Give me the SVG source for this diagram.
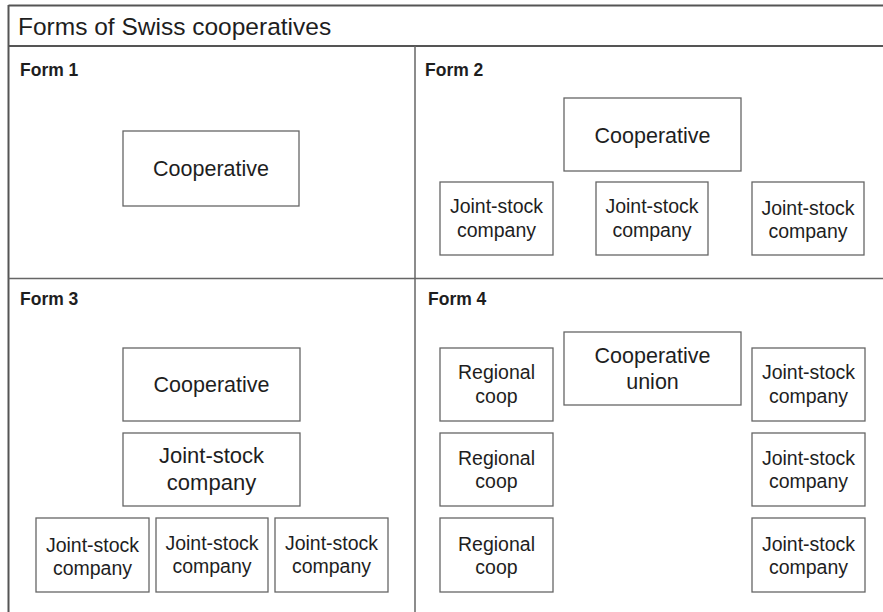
<svg xmlns="http://www.w3.org/2000/svg" width="883" height="612" viewBox="0 0 883 612">
<style>
.frame{stroke:#555;stroke-width:2;fill:none}
.div{stroke:#666;stroke-width:1.5;fill:none}
.box{fill:#fff;stroke:#666;stroke-width:1.3}
text{font-family:"Liberation Sans",Arial,sans-serif;fill:#1e1e1e}
.t{font-size:24.5px}
.h{font-size:17.5px;font-weight:bold}
.big{font-size:21.5px;text-anchor:middle}
.mid{font-size:22px;text-anchor:middle}
.sm{font-size:19.5px;text-anchor:middle}
</style>
<rect width="883" height="612" fill="#fff"/>
<g id="frame">
<line class="frame" x1="8.5" y1="5.5" x2="883" y2="5.5"/>
<line class="frame" x1="8.5" y1="46" x2="883" y2="46"/>
<line class="frame" x1="8.5" y1="5" x2="8.5" y2="612"/>
<line class="div" x1="415" y1="46" x2="415" y2="612"/>
<line class="div" x1="8.5" y1="278.5" x2="883" y2="278.5"/>
<text class="t" x="18" y="35">Forms of Swiss cooperatives</text>
<text class="h" x="20" y="76">Form 1</text>
<text class="h" x="425" y="76">Form 2</text>
<text class="h" x="20" y="305">Form 3</text>
<text class="h" x="428" y="305">Form 4</text>
</g>
<g id="connectors"></g>
<g id="f1-coop"><rect class="box" x="123" y="131" width="176" height="75"/><text class="big" x="211" y="176">Cooperative</text></g>
<g id="f2-coop"><rect class="box" x="564" y="98" width="177" height="73"/><text class="big" x="652.5" y="143">Cooperative</text></g>
<g id="f2-jsc1"><rect class="box" x="440" y="182" width="113" height="73"/><text class="sm" x="496.5" y="213">Joint-stock</text><text class="sm" x="496.5" y="237">company</text></g>
<g id="f2-jsc2"><rect class="box" x="596" y="182" width="112" height="73"/><text class="sm" x="652" y="213">Joint-stock</text><text class="sm" x="652" y="237">company</text></g>
<g id="f2-jsc3"><rect class="box" x="752" y="182" width="112" height="73"/><text class="sm" x="808" y="215">Joint-stock</text><text class="sm" x="808" y="238">company</text></g>
<g id="f3-coop"><rect class="box" x="123" y="348" width="177" height="73"/><text class="big" x="211.5" y="392">Cooperative</text></g>
<g id="f3-jsc"><rect class="box" x="123" y="433" width="177" height="73"/><text class="mid" x="211.5" y="463">Joint-stock</text><text class="mid" x="211.5" y="490">company</text></g>
<g id="f3-jsc1"><rect class="box" x="36" y="518" width="113" height="74"/><text class="sm" x="92.5" y="552">Joint-stock</text><text class="sm" x="92.5" y="575">company</text></g>
<g id="f3-jsc2"><rect class="box" x="156" y="518" width="112" height="74"/><text class="sm" x="212" y="550">Joint-stock</text><text class="sm" x="212" y="573">company</text></g>
<g id="f3-jsc3"><rect class="box" x="275" y="518" width="113" height="74"/><text class="sm" x="331.5" y="550">Joint-stock</text><text class="sm" x="331.5" y="573">company</text></g>
<g id="f4-union"><rect class="box" x="564" y="332" width="177" height="73"/><text class="big" x="652.5" y="363">Cooperative</text><text class="big" x="652.5" y="389">union</text></g>
<g id="f4-reg1"><rect class="box" x="440" y="348" width="113" height="73"/><text class="sm" x="496.5" y="379">Regional</text><text class="sm" x="496.5" y="403">coop</text></g>
<g id="f4-reg2"><rect class="box" x="440" y="433" width="113" height="73"/><text class="sm" x="496.5" y="465">Regional</text><text class="sm" x="496.5" y="488">coop</text></g>
<g id="f4-reg3"><rect class="box" x="440" y="518" width="113" height="74"/><text class="sm" x="496.5" y="551">Regional</text><text class="sm" x="496.5" y="574">coop</text></g>
<g id="f4-jsc1"><rect class="box" x="752" y="348" width="113" height="73"/><text class="sm" x="808.5" y="379">Joint-stock</text><text class="sm" x="808.5" y="403">company</text></g>
<g id="f4-jsc2"><rect class="box" x="752" y="433" width="113" height="73"/><text class="sm" x="808.5" y="465">Joint-stock</text><text class="sm" x="808.5" y="488">company</text></g>
<g id="f4-jsc3"><rect class="box" x="752" y="518" width="113" height="74"/><text class="sm" x="808.5" y="551">Joint-stock</text><text class="sm" x="808.5" y="574">company</text></g>
</svg>
